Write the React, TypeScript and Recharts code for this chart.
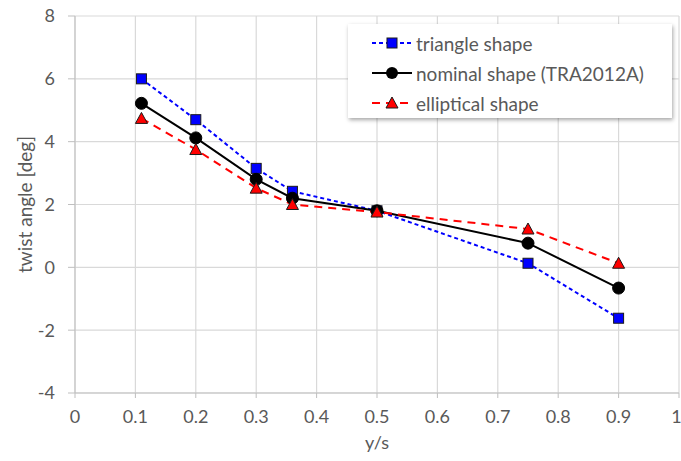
import React from 'react';
import { LineChart, Line, XAxis, YAxis, CartesianGrid } from 'recharts';

// span positions y/s
const spanPos = [0.11, 0.2, 0.3, 0.36, 0.5, 0.75, 0.9];
// twist angle [deg] for each planform
const triangleTwist = [6.0, 4.7, 3.15, 2.42, 1.8, 0.13, -1.62];
const nominalTwist = [5.22, 4.12, 2.8, 2.2, 1.8, 0.77, -0.66];
const ellipticalTwist = [4.74, 3.75, 2.52, 2.0, 1.76, 1.22, 0.13];

const xTicks = [0, 0.1, 0.2, 0.3, 0.4, 0.5, 0.6, 0.7, 0.8, 0.9, 1];
const yTicks = [-4, -2, 0, 2, 4, 6, 8];

const data = spanPos.map((x, i) => ({
  x,
  triangle: triangleTwist[i],
  nominal: nominalTwist[i],
  elliptical: ellipticalTwist[i],
}));

const FONT = 'Lato, "Open Sans", sans-serif';
const TEXT = '#595959';
const FS = 18;

const SquareDot = (props: any) => {
  const { cx, cy, key } = props;
  if (cx == null || cy == null) return null;
  return <rect key={key} x={cx - 5} y={cy - 5} width={10} height={10} fill="#0000ff" stroke="#1a1a1a" strokeWidth={1} />;
};

const CircleDot = (props: any) => {
  const { cx, cy, key } = props;
  if (cx == null || cy == null) return null;
  return <circle key={key} cx={cx} cy={cy} r={6} fill="#000" stroke="#000" />;
};

const TriDot = (props: any) => {
  const { cx, cy, key } = props;
  if (cx == null || cy == null) return null;
  return (
    <polygon
      key={key}
      points={`${cx},${cy - 6} ${cx + 6},${cy + 5} ${cx - 6},${cy + 5}`}
      fill="#ff0000"
      stroke="#1a1a1a"
      strokeWidth={1}
    />
  );
};

const legendItems = [
  { label: 'triangle shape', color: '#0000ff', dash: '4 3', marker: 'square' },
  { label: 'nominal shape (TRA2012A)', color: '#000000', dash: undefined, marker: 'circle' },
  { label: 'elliptical shape', color: '#ff0000', dash: '8 6', marker: 'tri' },
];

const ChartLegend = () => (
  <div
    style={{
      position: 'absolute',
      left: 348,
      top: 24,
      width: 324,
      height: 94,
      background: '#fff',
      boxShadow: '1px 2px 4px rgba(0,0,0,0.35)',
      boxSizing: 'border-box',
      paddingTop: 4,
      fontFamily: FONT,
      fontSize: 19,
      color: TEXT,
    }}
  >
    {legendItems.map((it) => (
      <div key={it.label} style={{ display: 'flex', alignItems: 'center', height: 30 }}>
        <svg width={68} height={16} style={{ marginLeft: 20 }}>
          <line x1={4} y1={8} x2={44} y2={8} stroke={it.color} strokeWidth={2} strokeDasharray={it.dash} />
          {it.marker === 'square' && <rect x={19} y={3} width={10} height={10} fill="#0000ff" stroke="#1a1a1a" />}
          {it.marker === 'circle' && <circle cx={24} cy={8} r={6} fill="#000" />}
          {it.marker === 'tri' && <polygon points="24,2 30,13 18,13" fill="#ff0000" stroke="#1a1a1a" />}
        </svg>
        <span style={{ marginLeft: -20 }}>{it.label}</span>
      </div>
    ))}
  </div>
);

export default function App() {
  return (
    <div style={{ position: 'relative', width: 681, height: 461, background: '#fff', overflow: 'hidden' }}>
      <style>{'body{margin:0}'}</style>
      <LineChart width={681} height={461} data={data} margin={{ top: 16, right: 2, left: 0, bottom: 0 }}>
        <CartesianGrid stroke="#d9d9d9" strokeWidth={1.2} />
        <XAxis
          dataKey="x"
          type="number"
          domain={[0, 1]}
          ticks={xTicks}
          height={68}
          stroke="#bfbfbf"
          tickSize={5}
          tick={{ fill: TEXT, fontSize: FS, fontFamily: FONT }}
          tickMargin={12}
          label={{ value: 'y/s', position: 'insideTop', offset: 43, fill: TEXT, fontSize: FS, fontFamily: FONT }}
        />
        <YAxis
          type="number"
          domain={[-4, 8]}
          ticks={yTicks}
          width={75}
          stroke="#bfbfbf"
          tickSize={7}
          tick={{ fill: TEXT, fontSize: FS, fontFamily: FONT }}
          tickMargin={13}
          label={{ value: 'twist angle [deg]', angle: -90, position: 'center', dx: -12, fill: TEXT, fontSize: 19, fontFamily: FONT }}
        />
        <Line
          dataKey="triangle"
          stroke="#0000ff"
          strokeWidth={2}
          strokeDasharray="4 3"
          dot={SquareDot}
          activeDot={false}
          isAnimationActive={false}
        />
        <Line
          dataKey="nominal"
          stroke="#000000"
          strokeWidth={2}
          dot={CircleDot}
          activeDot={false}
          isAnimationActive={false}
        />
        <Line
          dataKey="elliptical"
          stroke="#ff0000"
          strokeWidth={2}
          strokeDasharray="8 6"
          dot={TriDot}
          activeDot={false}
          isAnimationActive={false}
        />
      </LineChart>
      <ChartLegend />
    </div>
  );
}
